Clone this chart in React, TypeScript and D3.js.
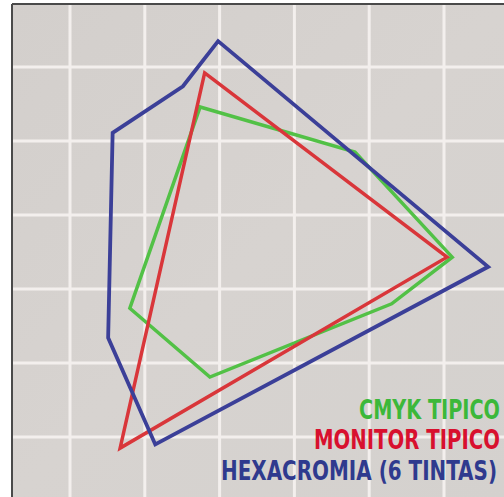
import React, { useLayoutEffect, useRef, useState } from "react";
import * as d3 from "d3";

const gridTicks = [1, 2, 3, 4, 5, 6];

const blueU = [2.98, 6.59, 2.14, 1.51, 1.57, 2.51];
const blueV = [0.65, 3.7, 6.1, 4.66, 1.89, 1.26];
const redU = [2.8, 6.04, 1.67];
const redV = [1.08, 3.57, 6.15];
const greenU = [2.74, 4.81, 6.11, 5.3, 2.87, 1.8];
const greenV = [1.54, 2.15, 3.57, 4.2, 5.19, 4.26];

const legendLabels = ["CMYK TIPICO", "MONITOR TIPICO", "HEXACROMIA (6 TINTAS)"];

const W = 504;
const H = 497;

export default function App() {
  const x = d3.scaleLinear().domain([1, 6]).range([70, 444]);
  const y = d3.scaleLinear().domain([1, 6]).range([67, 437]);
  const line = d3
    .line<[number, number]>()
    .x((d) => x(d[0]))
    .y((d) => y(d[1]))
    .curve(d3.curveLinearClosed);

  const series = [
    { u: greenU, v: greenV, color: "#52c146", w: 3.5 },
    { u: redU, v: redV, color: "#d9363a", w: 3.5 },
    { u: blueU, v: blueV, color: "#3b3f98", w: 3.8 },
  ];

  const legendColors = ["#3cb83a", "#d8102e", "#2f3a8e"];
  const legendY = [419, 449, 480];
  const legendRight = [500, 500, 497];
  const legendW = [141, 186, 276];

  const refs = useRef<(SVGTextElement | null)[]>([]);
  const [scales, setScales] = useState<number[]>([0.8, 0.8, 0.8]);

  useLayoutEffect(() => {
    const s = refs.current.map((el, i) => {
      if (!el) return 0.8;
      const w = el.getComputedTextLength();
      return w > 0 ? legendW[i] / w : 0.8;
    });
    setScales(s);
  }, []);

  return (
    <svg
      width={W}
      height={H}
      style={{ position: "absolute", left: 0, top: 0, background: "#ffffff" }}
    >
      <defs>
        <linearGradient id="bg" x1="0" y1="0" x2="1" y2="1">
          <stop offset="0" stopColor="#d3cfcc" />
          <stop offset="0.5" stopColor="#d7d3d0" />
          <stop offset="1" stopColor="#d4d1ce" />
        </linearGradient>
      </defs>
      <rect x={12} y={4} width={W - 12} height={H - 4} fill="url(#bg)" />
      {gridTicks.map((t) => (
        <line
          key={"v" + t}
          x1={x(t)}
          x2={x(t)}
          y1={4}
          y2={H}
          stroke="#f3efed"
          strokeWidth={3}
        />
      ))}
      {gridTicks.map((t) => (
        <line
          key={"h" + t}
          x1={12}
          x2={W}
          y1={y(t)}
          y2={y(t)}
          stroke="#f3efed"
          strokeWidth={3}
        />
      ))}
      <line x1={12} x2={12} y1={4} y2={H} stroke="#4a4a4a" strokeWidth={2} />
      <line x1={12} x2={W} y1={4} y2={4} stroke="#4a4a4a" strokeWidth={2} />
      {series.map((s, i) => (
        <path
          key={i}
          d={line(s.u.map((u, j) => [u, s.v[j]] as [number, number])) || ""}
          fill="none"
          stroke={s.color}
          strokeWidth={s.w}
          strokeLinejoin="miter"
        />
      ))}
      {legendLabels.map((l, i) => (
        <text
          key={l}
          ref={(el) => {
            refs.current[i] = el;
          }}
          transform={`translate(${legendRight[i]},${legendY[i]}) scale(${scales[i]},1)`}
          textAnchor="end"
          fill={legendColors[i]}
          fontFamily="'DejaVu Sans Condensed', 'DejaVu Sans', sans-serif"
          fontWeight="bold"
          fontSize={27}
        >
          {l}
        </text>
      ))}
    </svg>
  );
}
